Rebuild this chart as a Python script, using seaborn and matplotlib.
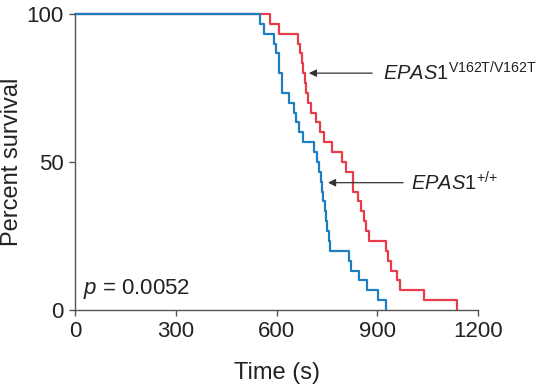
import numpy as np
import pandas as pd
import seaborn as sns
import matplotlib.pyplot as plt

# death times (s), one entry per animal
wt_times = [551, 564, 591, 597, 607, 607, 616, 616, 636, 653, 658, 666, 678,
            711, 720, 726, 731, 735, 739, 743, 747, 751, 755, 760,
            815, 822, 845, 870, 902, 926]
mut_times = [580, 606, 665, 671, 676, 680, 684, 689, 694, 703, 716, 730, 742,
             765, 795, 806, 828, 828, 842, 852, 860, 866, 875,
             925, 933, 940, 960, 967, 1040, 1138]
groups = ['EPAS1 V162T/V162T', 'EPAS1 +/+']   # red drawn first, blue on top
colors = ['#e63c4c', '#1f7dc2']
x_ticks = [0, 300, 600, 900, 1200]
y_ticks = [0, 50, 100]
p_text = r'$\mathit{p}$ = 0.0052'


def km_steps(times):
    """percent survival as a step table (no censoring)"""
    t = np.sort(np.asarray(times, dtype=float))
    n = len(t)
    x = np.r_[0.0, t]
    y = 100.0 * np.r_[n, n - np.arange(1, n + 1)] / n
    return x, y


frames = []
for name, times in zip(groups, [mut_times, wt_times]):
    x, y = km_steps(times)
    frames.append(pd.DataFrame({'time': x, 'pct': y, 'group': name}))
df = pd.concat(frames, ignore_index=True)

sns.set_style('ticks')
plt.rcParams['font.family'] = ['Liberation Sans', 'DejaVu Sans']
plt.rcParams['mathtext.fontset'] = 'custom'
plt.rcParams['mathtext.rm'] = 'Liberation Sans'
plt.rcParams['mathtext.it'] = 'Liberation Sans:italic'

fig = plt.figure(figsize=(5.36, 3.87), dpi=100)
ax = fig.add_axes([0.140, 0.199, 0.752, 0.765])

sns.lineplot(data=df, x='time', y='pct', hue='group', hue_order=groups,
             palette=colors, estimator=None, sort=False,
             drawstyle='steps-post', legend=False, lw=1.6,
             clip_on=False, ax=ax)

# axes
ax.set_xlim(0, 1200)
ax.set_ylim(0, 100)
ax.set_xticks(x_ticks)
ax.set_yticks(y_ticks)
sns.despine(ax=ax)
for s in ['left', 'bottom']:
    ax.spines[s].set_color('#555555')
    ax.spines[s].set_linewidth(1.0)
ax.tick_params(axis='both', direction='out', length=4, width=1,
               color='#555555', labelsize=16, labelcolor='#222222', pad=4)
ax.set_xlabel('Time (s)', fontsize=17, color='#222222', labelpad=14)
ax.set_ylabel('Percent survival', fontsize=17, color='#222222', labelpad=3)

# labels with arrows
arrow = dict(arrowstyle='-|>', color='#333333', lw=0.9, mutation_scale=11)
ax.annotate('', xy=(688, 80), xytext=(893, 80), arrowprops=arrow)
ax.text(917, 80, r'$\mathit{EPAS1}^{\mathrm{V162T/V162T}}$', fontsize=14.5,
        color='#222222', va='center', ha='left')
ax.annotate('', xy=(745, 43), xytext=(985, 43), arrowprops=arrow)
ax.text(1000, 43, r'$\mathit{EPAS1}^{\mathrm{{+}/{+}}}$', fontsize=14.5,
        color='#222222', va='center', ha='left')
ax.text(25, 7, p_text, fontsize=16, color='#222222', va='center', ha='left')

fig.savefig('out.png', dpi=100)
